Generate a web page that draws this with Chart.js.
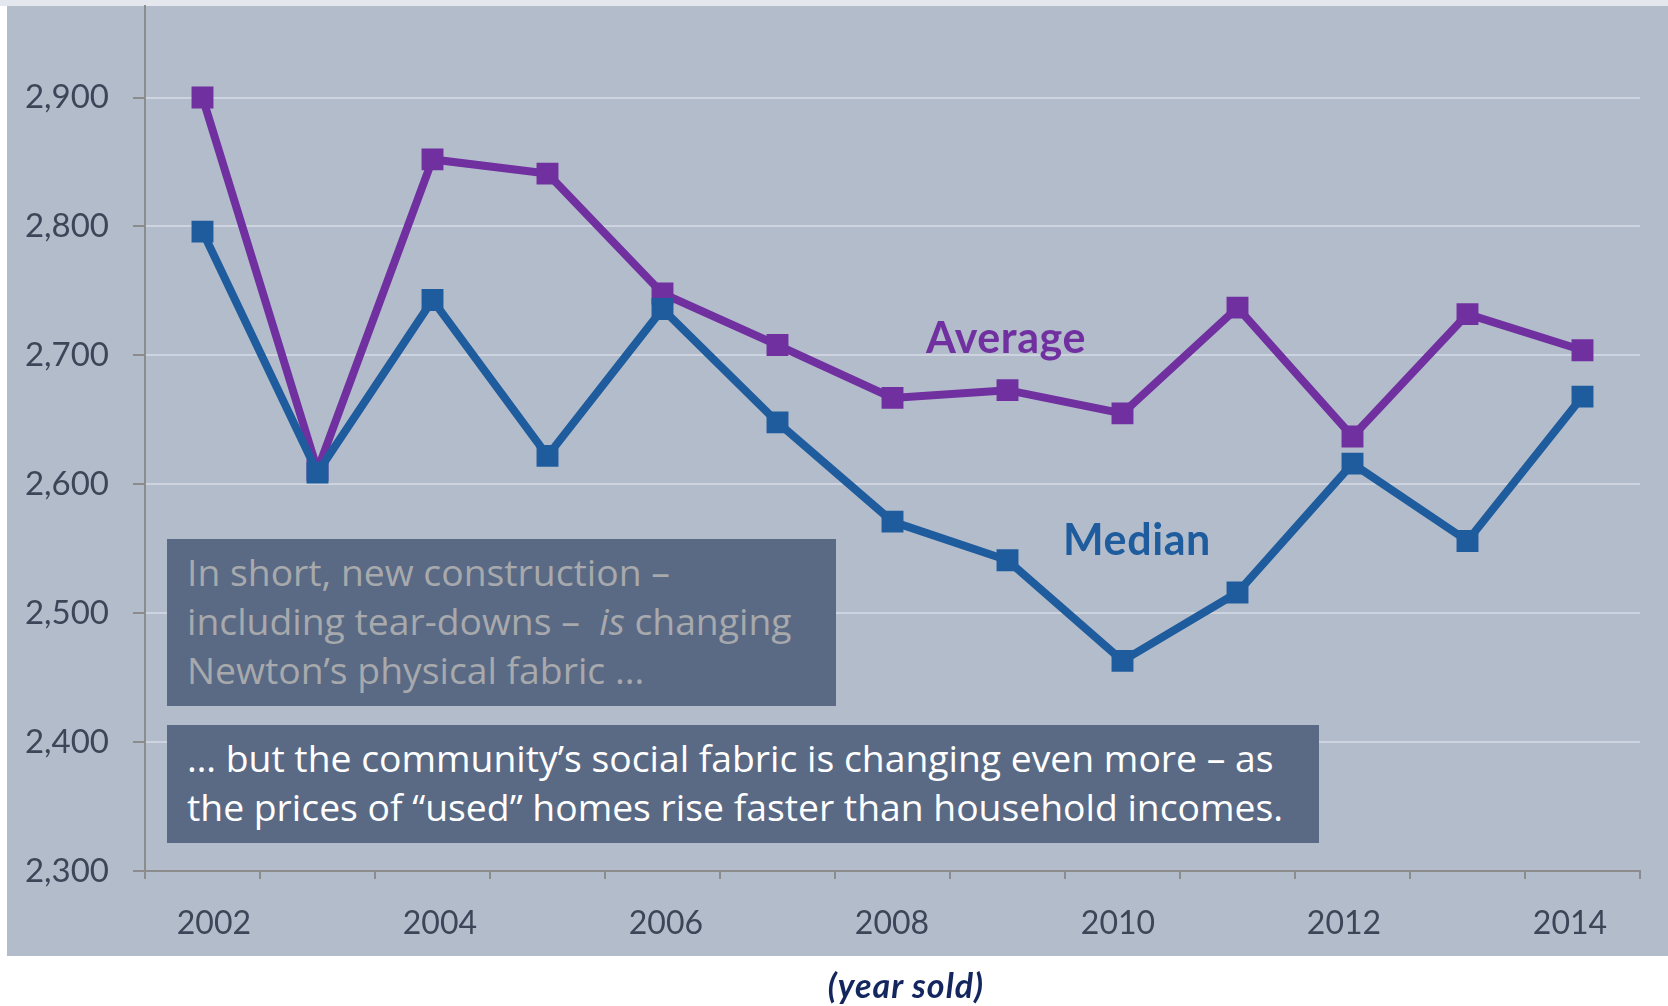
<!DOCTYPE html>
<html>
<head>
<meta charset="utf-8">
<script src="https://cdn.jsdelivr.net/npm/chart.js@4.4.1/dist/chart.umd.min.js"></script>
<style>
  html, body { margin: 0; padding: 0; background: #fff; }
  #wrap { position: relative; width: 1668px; height: 1006px; overflow: hidden; font-family: Lato, 'Open Sans', sans-serif; }
  #chart { position: absolute; left: 0; top: 0; }
  .note { position: absolute; background: #5a6a85; box-sizing: border-box; padding: 8px 0 0 20px; font-family: 'Open Sans', sans-serif; font-size: 37.3px; line-height: 49px; white-space: nowrap; }
  .series-label { position: absolute; font-weight: 700; font-size: 43px; letter-spacing: 0.6px; line-height: 1; white-space: nowrap; }
  #xtitle { position: absolute; left: 0; width: 1812px; top: 964px; text-align: center; font-weight: 700; font-style: italic; font-size: 34px; letter-spacing: 1px; color: #13265e; }
</style>
</head>
<body>
<div id="wrap">
  <canvas id="chart" width="1668" height="1006"></canvas>

  <div class="series-label" style="left:926px; top:315px; color:#7030a0">Average</div>
  <div class="series-label" style="left:1063px; top:517px; color:#1f5c9e">Median</div>

  <div class="note" style="left:167px; top:539px; width:669px; height:167px; color:#a7a9ac">
    In short, new construction –<br>
    including tear-downs –&nbsp; <i>is</i> changing<br>
    Newton’s physical fabric ...
  </div>
  <div class="note" style="left:167px; top:725px; width:1152px; height:118px; color:#fff">
    … but the community’s social fabric is changing even more – as<br>
    the prices of “used” homes rise faster than household incomes.
  </div>

  <div id="xtitle">(year sold)</div>
</div>

<script>
const years = ['2002', '2003', '2004', '2005', '2006', '2007', '2008', '2009', '2010', '2011', '2012', '2013', '2014'];
const averageValues = [2900, 2611, 2852, 2841, 2748, 2708, 2667, 2673, 2655, 2737, 2637, 2732, 2704];
const medianValues = [2796, 2609, 2743, 2622, 2736, 2648, 2571, 2541, 2463, 2516, 2616, 2556, 2668];
const yTickValues = [2300, 2400, 2500, 2600, 2700, 2800, 2900];
const yearLabels = [2002, 2004, 2006, 2008, 2010, 2012, 2014];

const axisGray = '#8c8c8c';
const gridLight = '#cdd4df';
const labelColor = '#3b4658';

// paints the slide panel behind the chart
const panelBg = {
  id: 'panelBg',
  beforeDraw(chart) {
    const ctx = chart.ctx;
    ctx.save();
    ctx.fillStyle = '#e4e8ee';
    ctx.fillRect(0, 0, chart.width, 6);
    ctx.fillStyle = '#b3bccb';
    ctx.fillRect(7, 6, chart.width - 7, 950);
    ctx.restore();
  }
};

const ctx = document.getElementById('chart').getContext('2d');
new Chart(ctx, {
  type: 'line',
  data: {
    labels: years,
    datasets: [
      {
        label: 'Median',
        data: medianValues,
        borderColor: '#1f5c9e',
        backgroundColor: '#1f5c9e',
        order: 0,
      },
      {
        label: 'Average',
        data: averageValues,
        borderColor: '#7030a0',
        backgroundColor: '#7030a0',
        order: 1,
      },
    ],
  },
  options: {
    responsive: false,
    devicePixelRatio: 1,
    animation: false,
    layout: { autoPadding: false, padding: { top: 6, right: 28, left: 0, bottom: 0 } },
    elements: {
      line: { borderWidth: 8, tension: 0, fill: false, borderJoinStyle: 'miter' },
      point: { pointStyle: 'rect', radius: 15.5, borderWidth: 0, hoverRadius: 15.5 },
    },
    plugins: {
      legend: { display: false },
      tooltip: { enabled: false },
    },
    scales: {
      x: {
        type: 'category',
        offset: true,
        weight: 0,
        grid: { offset: true, drawOnChartArea: false, color: axisGray, lineWidth: 2, tickLength: 8 },
        border: { color: axisGray, width: 2 },
        ticks: { display: false },
        afterFit(scale) { scale.height = 8; scale.paddingLeft = 0; scale.paddingRight = 0; },
      },
      xl: {
        type: 'linear',
        position: 'bottom',
        weight: 1,
        min: 2001.39,
        max: 2014.62,
        grid: { display: false },
        border: { display: false },
        ticks: {
          color: labelColor,
          font: { family: 'Lato', size: 32 },
          padding: 17,
          callback: v => String(v),
        },
        afterBuildTicks(scale) { scale.ticks = yearLabels.map(v => ({ value: v })); },
        afterFit(scale) { scale.height = 127; scale.paddingLeft = 0; scale.paddingRight = 0; },
      },
      y: {
        min: 2300,
        max: 2971,
        grid: {
          color: c => (c.tick && c.tick.value === 2300 ? axisGray : gridLight),
          tickColor: axisGray,
          lineWidth: 2,
          tickLength: 12,
        },
        border: { color: axisGray, width: 2 },
        ticks: {
          color: labelColor,
          font: { family: 'Lato', size: 33 },
          padding: 24,
          callback: v => v.toLocaleString('en-US'),
        },
        afterBuildTicks(scale) { scale.ticks = yTickValues.map(v => ({ value: v })); },
        afterFit(scale) { scale.width = 145; scale.paddingTop = 0; scale.paddingBottom = 0; },
      },
    },
  },
  plugins: [panelBg],
});
</script>
</body>
</html>
